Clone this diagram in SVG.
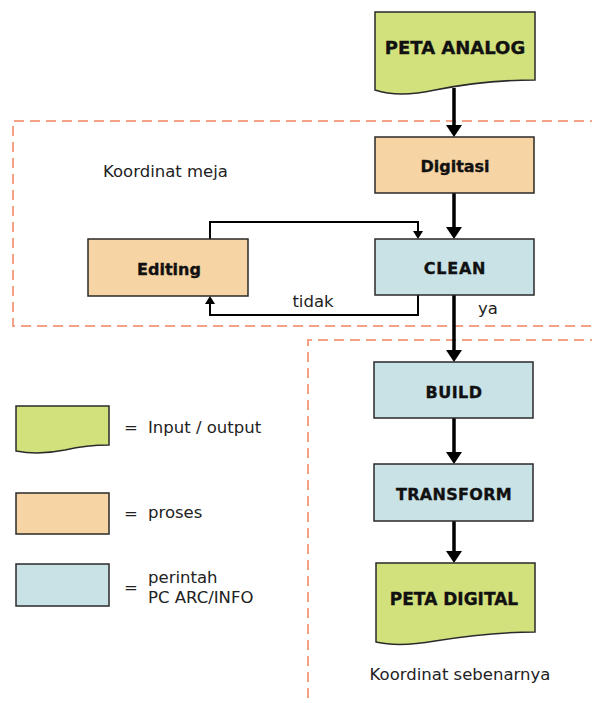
<svg xmlns="http://www.w3.org/2000/svg" width="592" height="703" viewBox="0 0 592 703">
<style>
.io{fill:#d3e17c;stroke:#2a2a2a;stroke-width:1.5}
.pr{fill:#f7d4a3;stroke:#2a2a2a;stroke-width:1.5}
.cmd{fill:#c9e2e6;stroke:#2a2a2a;stroke-width:1.5}
.lbl{font-family:"DejaVu Sans",sans-serif;font-weight:bold;font-size:16px;fill:#111;stroke:#111;stroke-width:0.35;text-anchor:middle}
.txt{font-family:"DejaVu Sans",sans-serif;font-size:16.5px;fill:#222}
.zone{fill:none;stroke:#f4a286;stroke-width:2;stroke-dasharray:10 6}
.main{fill:none;stroke:#000;stroke-width:3.5;marker-end:url(#big)}
.loop{fill:none;stroke:#000;stroke-width:2;marker-end:url(#small)}
</style>
<defs>
<marker id="big" markerUnits="userSpaceOnUse" markerWidth="12" markerHeight="16" refX="8" refY="8" orient="auto" viewBox="0 0 12 16">
<path d="M0,0 L12,8 L0,16 Z" fill="#000"/>
</marker>
<marker id="small" markerUnits="userSpaceOnUse" markerWidth="8" markerHeight="10" refX="5" refY="5" orient="auto" viewBox="0 0 8 10">
<path d="M0,0 L8,5 L0,10 Z" fill="#000"/>
</marker>
</defs>
<g id="zones">
<path class="zone" d="M600,121 H13 V326 H600"/>
<path class="zone" d="M600,340 H308 V710"/>
<text class="txt" x="103" y="177">Koordinat meja</text>
<text class="txt" x="460" y="680" text-anchor="middle">Koordinat sebenarnya</text>
</g>
<g id="connectors">
<path class="main" d="M454,88 V133"/>
<path class="main" d="M454,193 V235"/>
<path class="main" d="M454,295 V358"/>
<path class="main" d="M454,418 V460"/>
<path class="main" d="M454,521 V559"/>
<path class="loop" d="M210,239 V222 H418 V236"/>
<path class="loop" d="M418,295 V315 H210 V299"/>
<text class="txt" x="313" y="307" text-anchor="middle">tidak</text>
<text class="txt" x="478" y="314">ya</text>
</g>
<g id="peta-analog">
<path class="io" d="M375,12 H535 V80 C495,80 465,84 435,90 C412,95 393,96 375,90 Z"/>
<text class="lbl" x="455" y="54" style="font-size:18px">PETA ANALOG</text>
</g>
<g id="digitasi">
<rect class="pr" x="375" y="137" width="159" height="56"/>
<text class="lbl" x="455" y="172">Digitasi</text>
</g>
<g id="clean">
<rect class="cmd" x="375" y="239" width="159" height="56"/>
<text class="lbl" x="455" y="274" style="letter-spacing:0.8px">CLEAN</text>
</g>
<g id="editing">
<rect class="pr" x="88" y="239" width="160" height="57"/>
<text class="lbl" x="169" y="275">Editing</text>
</g>
<g id="build">
<rect class="cmd" x="374" y="362" width="159" height="56"/>
<text class="lbl" x="454" y="398" style="letter-spacing:0.5px">BUILD</text>
</g>
<g id="transform">
<rect class="cmd" x="374" y="464" width="159" height="57"/>
<text class="lbl" x="454" y="500" style="letter-spacing:0.3px">TRANSFORM</text>
</g>
<g id="peta-digital">
<path class="io" d="M376,563 H535 V632 C495,632 465,636 435,641 C412,645 393,646 376,642 Z"/>
<text class="lbl" x="454" y="605" style="font-size:17px">PETA DIGITAL</text>
</g>
<g id="legend">
<path class="io" d="M16,406 H109 V445 C90,445 78,447 65,450 C50,453 32,454 16,451 Z"/>
<text class="txt" x="124" y="433">=</text>
<text class="txt" x="148" y="433">Input / output</text>
<rect class="pr" x="16" y="493" width="93" height="41"/>
<text class="txt" x="124" y="519">=</text>
<text class="txt" x="148" y="518">proses</text>
<rect class="cmd" x="16" y="564" width="93" height="42"/>
<text class="txt" x="124" y="593">=</text>
<text class="txt" x="148" y="583">perintah</text>
<text class="txt" x="148" y="603">PC ARC/INFO</text>
</g>
</svg>
